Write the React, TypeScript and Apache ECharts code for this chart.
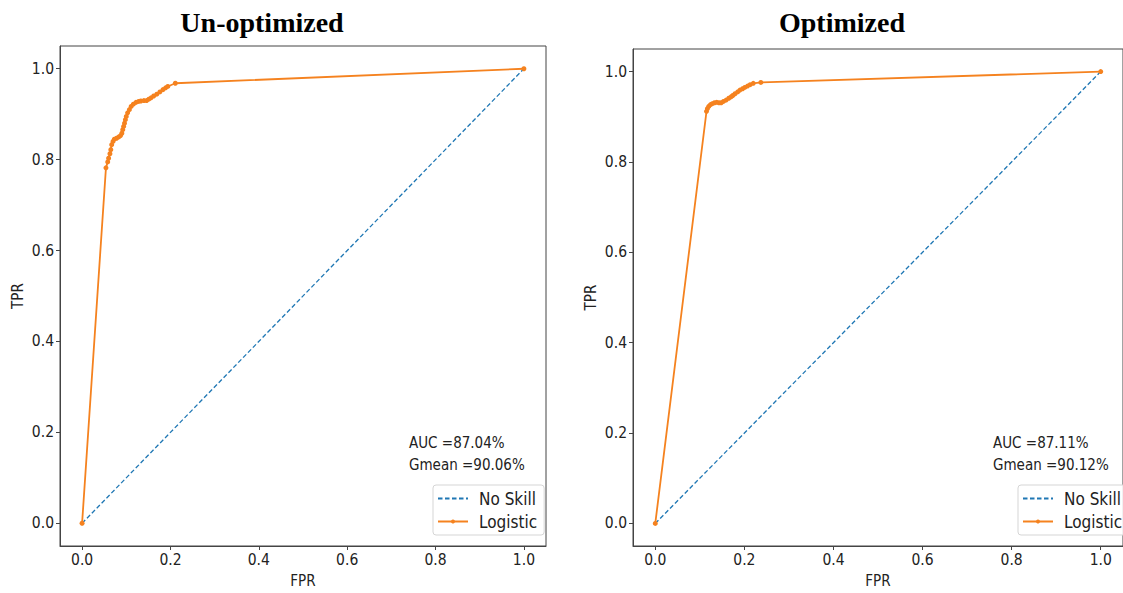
import React, { useEffect, useRef } from "react";
import * as echarts from "echarts";

// ---- data ----
const panelTitles = ["Un-optimized", "Optimized"];
const xTicks = [0, 0.2, 0.4, 0.6, 0.8, 1.0];
const yTicks = [0, 0.2, 0.4, 0.6, 0.8, 1.0];
const aucLabels = ["AUC =87.04%", "AUC =87.11%"];
const gmeanLabels = ["Gmean =90.06%", "Gmean =90.12%"];
const legendNames = ["No Skill", "Logistic"];

const noSkillFpr = [0, 1];
const noSkillTpr = [0, 1];

const leftFpr = [
  0.0, 0.054, 0.058, 0.06, 0.063, 0.065, 0.067, 0.07, 0.073, 0.078, 0.083, 0.087, 0.09,
  0.092, 0.094, 0.096, 0.098, 0.1, 0.103, 0.107, 0.111, 0.116, 0.122, 0.128, 0.133, 0.14,
  0.146, 0.151, 0.156, 0.162, 0.169, 0.176, 0.183, 0.189, 0.194, 0.211, 1.0,
];
const leftTpr = [
  0.0, 0.782, 0.795, 0.803, 0.813, 0.822, 0.833, 0.84, 0.845, 0.847, 0.85, 0.853, 0.858,
  0.866, 0.873, 0.88, 0.888, 0.895, 0.903, 0.91, 0.917, 0.922, 0.926, 0.928, 0.929, 0.93,
  0.93, 0.933, 0.936, 0.94, 0.944, 0.949, 0.954, 0.958, 0.961, 0.968, 1.0,
];

const rightFpr = [
  0.0, 0.115, 0.117, 0.12, 0.124, 0.128, 0.133, 0.138, 0.143, 0.148, 0.153, 0.159, 0.165,
  0.17, 0.174, 0.179, 0.185, 0.19, 0.196, 0.201, 0.207, 0.213, 0.22, 0.237, 1.0,
];
const rightTpr = [
  0.0, 0.912, 0.918, 0.923, 0.927, 0.929, 0.931, 0.932, 0.931, 0.931, 0.934, 0.937, 0.941,
  0.944, 0.947, 0.951, 0.955, 0.959, 0.962, 0.965, 0.968, 0.971, 0.974, 0.976, 1.0,
];

const curves = [
  { fpr: leftFpr, tpr: leftTpr },
  { fpr: rightFpr, tpr: rightTpr },
];

// ---- layout / style ----
const SANS = "'DejaVu Sans Condensed', 'DejaVu Sans', sans-serif";
const SERIF = "'Liberation Serif', 'Times New Roman', serif";
const ORANGE = "#f5821f";
const BLUE = "#1f77b4";
const AXIS = "#444";
const TEXT = "#222";

const grids = [
  { left: 60, top: 46, width: 486, height: 502 },
  { left: 633, top: 49, width: 500, height: 498 },
];
const titlePos = [
  { x: 262, y: 22 },
  { x: 842, y: 22 },
];
const notePos = [
  { x: 409, y1: 443, y2: 465 },
  { x: 993, y1: 443, y2: 465 },
];
const legendPos = [
  { left: 433, top: 485 },
  { left: 1018, top: 485 },
];

function zip(xs: number[], ys: number[]) {
  return xs.map((x, i) => [x, ys[i]]);
}

export default function App() {
  const ref = useRef<HTMLDivElement>(null);

  useEffect(() => {
    if (!ref.current) return;
    const chart = echarts.init(ref.current, undefined, { renderer: "svg" });

    const fmt = (v: number) => v.toFixed(1);

    const xAxis = grids.map((_, i) => ({
      type: "value",
      gridIndex: i,
      min: -0.05,
      max: 1.05,
      name: "FPR",
      nameLocation: "middle",
      nameGap: 27,
      nameTextStyle: { fontSize: 15, color: TEXT, fontFamily: SANS },
      axisLine: { show: true, onZero: false, lineStyle: { color: AXIS, width: 1 } },
      axisTick: { show: true, length: 4, customValues: xTicks, lineStyle: { color: AXIS } },
      axisLabel: {
        customValues: xTicks,
        formatter: fmt,
        fontSize: 15.5,
        color: TEXT,
        fontFamily: SANS,
        margin: 6,
      },
      splitLine: { show: false },
    }));

    const yAxis = grids.map((_, i) => ({
      type: "value",
      gridIndex: i,
      min: -0.05,
      max: 1.05,
      name: "TPR",
      nameLocation: "middle",
      nameGap: 35,
      nameTextStyle: { fontSize: 15, color: TEXT, fontFamily: SANS },
      axisLine: { show: true, onZero: false, lineStyle: { color: AXIS, width: 1 } },
      axisTick: { show: true, length: 4, customValues: yTicks, lineStyle: { color: AXIS } },
      axisLabel: {
        customValues: yTicks,
        formatter: fmt,
        fontSize: 15.5,
        color: TEXT,
        fontFamily: SANS,
        margin: 6,
      },
      splitLine: { show: false },
    }));

    const series: any[] = [];
    grids.forEach((_, i) => {
      series.push({
        type: "line",
        name: legendNames[0],
        xAxisIndex: i,
        yAxisIndex: i,
        data: zip(noSkillFpr, noSkillTpr),
        symbol: "none",
        lineStyle: { type: [4.5, 2.5], color: BLUE, width: 1.3 },
        itemStyle: { color: BLUE },
        z: 2,
      });
      series.push({
        type: "line",
        name: legendNames[1],
        xAxisIndex: i,
        yAxisIndex: i,
        data: zip(curves[i].fpr, curves[i].tpr),
        symbol: "circle",
        symbolSize: 5,
        showSymbol: true,
        showAllSymbol: true,
        lineStyle: { color: ORANGE, width: 1.8 },
        itemStyle: { color: ORANGE },
        z: 3,
      });
    });

    const graphic: any[] = [];
    panelTitles.forEach((t, i) => {
      graphic.push({
        type: "text",
        x: titlePos[i].x,
        y: titlePos[i].y,
        style: {
          text: t,
          align: "center",
          verticalAlign: "middle",
          fontFamily: SERIF,
          fontWeight: "bold",
          fontSize: 28,
          fill: "#000",
        },
      });
      graphic.push({
        type: "text",
        x: notePos[i].x,
        y: notePos[i].y1,
        style: {
          text: aucLabels[i],
          align: "left",
          verticalAlign: "middle",
          fontFamily: SANS,
          fontSize: 15,
          fill: TEXT,
        },
      });
      graphic.push({
        type: "text",
        x: notePos[i].x,
        y: notePos[i].y2,
        style: {
          text: gmeanLabels[i],
          align: "left",
          verticalAlign: "middle",
          fontFamily: SANS,
          fontSize: 15,
          fill: TEXT,
        },
      });
    });

    const legend = legendPos.map((p) => ({
      orient: "vertical",
      left: p.left,
      top: p.top,
      data: [
        { name: legendNames[0], itemStyle: { opacity: 0 } },
        { name: legendNames[1] },
      ],
      itemWidth: 30,
      itemHeight: 5,
      itemGap: 6,
      padding: [5, 7, 5, 4],
      borderColor: "#d5d5d5",
      borderWidth: 1,
      borderRadius: 3,
      backgroundColor: "rgba(255,255,255,0.85)",
      selectedMode: false,
      textStyle: { fontSize: 17, color: TEXT, fontFamily: SANS, padding: [0, 0, 0, 6] },
    }));

    chart.setOption({
      animation: false,
      backgroundColor: "#fff",
      grid: grids.map((g) => ({
        ...g,
        show: true,
        borderColor: AXIS,
        borderWidth: 1,
        backgroundColor: "transparent",
        containLabel: false,
      })),
      xAxis,
      yAxis,
      legend,
      series,
      graphic,
    });

    return () => chart.dispose();
  }, []);

  return (
    <div
      ref={ref}
      style={{ position: "absolute", left: 0, top: 0, width: 1123, height: 593 }}
    />
  );
}
